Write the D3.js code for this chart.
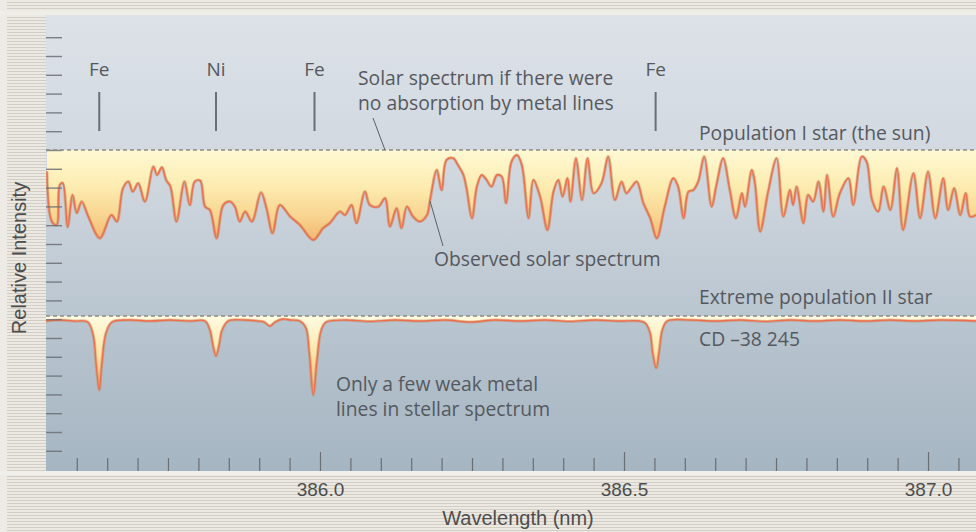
<!DOCTYPE html>
<html>
<head>
<meta charset="utf-8">
<script src="https://cdn.jsdelivr.net/npm/d3@7/dist/d3.min.js"></script>
<style>
  html, body { margin: 0; padding: 0; background: #ebe8e2; }
  svg { display: block; }
</style>
</head>
<body>
<svg id="chart" width="976" height="532" font-family="'Open Sans', 'Liberation Sans', Arial, sans-serif"></svg>
<script>
// Observed solar spectrum (Population I): wavelength in nm, intensity relative to the continuum
const solarWavelength = [
  385.551, 385.559, 385.567, 385.572, 385.577, 385.585, 385.593, 385.600, 385.608, 385.619,
  385.638, 385.657, 385.666, 385.676, 385.685, 385.692, 385.701, 385.712, 385.726, 385.732,
  385.740, 385.747, 385.754, 385.764, 385.777, 385.786, 385.794, 385.803, 385.811, 385.819,
  385.830, 385.841, 385.852, 385.860, 385.868, 385.877, 385.888, 385.903, 385.912, 385.922,
  385.934, 385.951, 385.967, 385.989, 386.005, 386.016, 386.033, 386.041, 386.052, 386.060,
  386.074, 386.082, 386.096, 386.107, 386.115, 386.126, 386.134, 386.143, 386.153, 386.164,
  386.176, 386.181, 386.192, 386.200, 386.208, 386.219, 386.227, 386.236, 386.241, 386.250,
  386.258, 386.266, 386.274, 386.282, 386.291, 386.299, 386.306, 386.315, 386.324, 386.332,
  386.343, 386.351, 386.362, 386.374, 386.384, 386.392, 386.399, 386.407, 386.412, 386.421,
  386.431, 386.440, 386.450, 386.463, 386.474, 386.485, 386.496, 386.504, 386.513, 386.521,
  386.532, 386.543, 386.554, 386.567, 386.581, 386.589, 386.598, 386.606, 386.614, 386.622,
  386.632, 386.644, 386.652, 386.663, 386.674, 386.684, 386.694, 386.699, 386.710, 386.715,
  386.724, 386.737, 386.751, 386.762, 386.773, 386.778, 386.784, 386.795, 386.803, 386.811,
  386.820, 386.828, 386.834, 386.844, 386.855, 386.869, 386.877, 386.891, 386.899, 386.908,
  386.918, 386.927, 386.938, 386.949, 386.959, 386.976, 386.987, 387.000, 387.012, 387.025,
  387.033, 387.043, 387.053, 387.062, 387.069, 387.079
];
const solarIntensity = [
  0.892, 0.642, 0.625, 0.825, 0.835, 0.615, 0.775, 0.685, 0.742, 0.667,
  0.559, 0.675, 0.642, 0.809, 0.842, 0.792, 0.834, 0.742, 0.917, 0.875,
  0.914, 0.850, 0.817, 0.642, 0.842, 0.725, 0.842, 0.847, 0.717, 0.700,
  0.559, 0.725, 0.742, 0.717, 0.642, 0.692, 0.642, 0.787, 0.709, 0.584,
  0.725, 0.667, 0.625, 0.550, 0.609, 0.634, 0.692, 0.675, 0.725, 0.634,
  0.792, 0.725, 0.717, 0.759, 0.617, 0.709, 0.609, 0.717, 0.667, 0.642,
  0.675, 0.750, 0.900, 0.800, 0.950, 0.959, 0.925, 0.875, 0.809, 0.659,
  0.817, 0.875, 0.850, 0.817, 0.875, 0.867, 0.734, 0.942, 0.975, 0.925,
  0.659, 0.850, 0.767, 0.600, 0.792, 0.850, 0.767, 0.859, 0.742, 0.959,
  0.750, 0.959, 0.784, 0.834, 0.967, 0.750, 0.842, 0.784, 0.817, 0.842,
  0.734, 0.660, 0.559, 0.717, 0.859, 0.817, 0.659, 0.792, 0.800, 0.842,
  0.967, 0.717, 0.825, 0.959, 0.800, 0.659, 0.784, 0.717, 0.900, 0.842,
  0.592, 0.792, 0.959, 0.667, 0.800, 0.725, 0.817, 0.634, 0.775, 0.742,
  0.842, 0.692, 0.875, 0.667, 0.784, 0.859, 0.725, 0.967, 0.942, 0.750,
  0.692, 0.817, 0.700, 0.909, 0.600, 0.884, 0.659, 0.892, 0.659, 0.859,
  0.700, 0.809, 0.675, 0.784, 0.667, 0.675
];

// Extreme Population II star CD -38 245: wavelength in nm, intensity relative to its continuum
const haloWavelength = [
  385.549, 385.572, 385.597, 385.618, 385.627, 385.632, 385.637, 385.641, 385.648, 385.658,
  385.688, 385.720, 385.753, 385.786, 385.811, 385.819, 385.824, 385.829, 385.834, 385.839,
  385.849, 385.877, 385.898, 385.908, 385.918, 385.926, 385.939, 385.951, 385.967, 385.977,
  385.982, 385.989, 385.995, 386.002, 386.010, 386.041, 386.082, 386.123, 386.164, 386.206,
  386.247, 386.288, 386.329, 386.370, 386.411, 386.452, 386.493, 386.526, 386.535, 386.543,
  386.547, 386.553, 386.558, 386.563, 386.571, 386.609, 386.650, 386.691, 386.732, 386.773,
  386.814, 386.855, 386.896, 386.938, 386.978, 387.020, 387.079
];
const haloIntensity = [
  0.975, 0.980, 0.975, 0.970, 0.905, 0.755, 0.630, 0.755, 0.915, 0.970,
  0.980, 0.975, 0.980, 0.975, 0.975, 0.930, 0.855, 0.800, 0.855, 0.930,
  0.975, 0.980, 0.975, 0.970, 0.950, 0.970, 0.985, 0.980, 0.975, 0.940,
  0.830, 0.605, 0.780, 0.930, 0.970, 0.980, 0.973, 0.980, 0.975, 0.980,
  0.970, 0.980, 0.975, 0.980, 0.973, 0.980, 0.975, 0.975, 0.965, 0.915,
  0.820, 0.740, 0.830, 0.930, 0.975, 0.980, 0.975, 0.980, 0.973, 0.980,
  0.975, 0.980, 0.975, 0.980, 0.975, 0.980, 0.975
];

// Metal absorption lines marked above the spectra
const lineWavelength = [385.637, 385.829, 385.991, 386.552];
const lineElement = ["Fe", "Ni", "Fe", "Fe"];

// Wavelength axis: labelled ticks and minor ticks every 0.05 nm
const xLabelValues = [386.0, 386.5, 387.0];
const xMinorTicks = d3.range(0, 30).map(i => +(385.60 + i * 0.05).toFixed(2));
const yTickCount = 23;

const W = 976, H = 532;
const plot = { left: 46, right: 976, top: 15, bottom: 471 };
const axisFont = "'Liberation Sans', Arial, sans-serif";
const svg = d3.select("#chart");
const defs = svg.append("defs");

// ruled paper around the plot
const stripes = defs.append("pattern")
  .attr("id", "stripes").attr("patternUnits", "userSpaceOnUse")
  .attr("width", 8).attr("height", 3);
stripes.append("rect").attr("width", 8).attr("height", 3).attr("fill", "#ece9e3");
stripes.append("rect").attr("y", 2).attr("width", 8).attr("height", 1).attr("fill", "#d2cec6");

const bgGrad = defs.append("linearGradient").attr("id", "bgGrad")
  .attr("gradientUnits", "userSpaceOnUse")
  .attr("x1", 0).attr("x2", 0).attr("y1", plot.top).attr("y2", plot.bottom);
[[0, "#dde2e8"], [0.35, "#d0d7df"], [0.65, "#bac6d0"], [1, "#a5b5c2"]]
  .forEach(([o, c]) => bgGrad.append("stop").attr("offset", o).attr("stop-color", c));

const x = d3.scaleLinear().domain([385.5494, 387.0789]).range([plot.left, plot.right]);
const ySolar = d3.scaleLinear().domain([0, 1]).range([350, 150]);
const yHalo = d3.scaleLinear().domain([0, 1]).range([516, 316]);
const yTicks = d3.scaleLinear().domain([0, yTickCount - 1]).range([450.8, 37.2]);

const solarGrad = defs.append("linearGradient").attr("id", "solarGrad")
  .attr("gradientUnits", "userSpaceOnUse")
  .attr("x1", 0).attr("x2", 0).attr("y1", ySolar(1)).attr("y2", ySolar(0.55));
[[0, "#fef9d4"], [0.4, "#fdecb0"], [0.75, "#f8d38e"], [1, "#f3b670"]]
  .forEach(([o, c]) => solarGrad.append("stop").attr("offset", o).attr("stop-color", c));

const haloGrad = defs.append("linearGradient").attr("id", "haloGrad")
  .attr("gradientUnits", "userSpaceOnUse")
  .attr("x1", 0).attr("x2", 0).attr("y1", yHalo(1)).attr("y2", yHalo(0.6));
[[0, "#fffbe2"], [0.4, "#fdeab0"], [1, "#f2b46a"]]
  .forEach(([o, c]) => haloGrad.append("stop").attr("offset", o).attr("stop-color", c));

defs.append("clipPath").attr("id", "plotClip").append("rect")
  .attr("x", plot.left).attr("y", plot.top)
  .attr("width", plot.right - plot.left).attr("height", plot.bottom - plot.top);

// frame
svg.append("rect").attr("width", W).attr("height", H).attr("fill", "url(#stripes)");
svg.append("rect").attr("x", 0).attr("y", 0).attr("width", 7).attr("height", H).attr("fill", "#eeebe6");
svg.append("rect").attr("x", 0).attr("y", 11).attr("width", W).attr("height", 4).attr("fill", "#efede8");
svg.append("rect").attr("x", 0).attr("y", plot.bottom).attr("width", W).attr("height", 4).attr("fill", "#f1efeb");
svg.append("rect")
  .attr("x", plot.left).attr("y", plot.top)
  .attr("width", plot.right - plot.left).attr("height", plot.bottom - plot.top)
  .attr("fill", "url(#bgGrad)");

const g = svg.append("g").attr("clip-path", "url(#plotClip)");
const curve = d3.curveCatmullRom.alpha(0.5);

// solar spectrum
const solar = solarWavelength.map((w, i) => ({ w, v: solarIntensity[i] }));
g.append("path").datum(solar)
  .attr("fill", "url(#solarGrad)")
  .attr("d", d3.area().x(d => x(d.w)).y0(ySolar(1)).y1(d => ySolar(d.v)).curve(curve));
g.append("path").datum(solar)
  .attr("fill", "none").attr("stroke", "#c9845a").attr("stroke-width", 3).attr("stroke-opacity", 0.55)
  .attr("stroke-linejoin", "round")
  .attr("d", d3.line().x(d => x(d.w)).y(d => ySolar(d.v)).curve(curve));
g.append("path").datum(solar)
  .attr("fill", "none").attr("stroke", "#ee6f4c").attr("stroke-width", 1.4)
  .attr("stroke-linejoin", "round")
  .attr("d", d3.line().x(d => x(d.w)).y(d => ySolar(d.v)).curve(curve));

// population II spectrum
const halo = haloWavelength.map((w, i) => ({ w, v: haloIntensity[i] }));
g.append("path").datum(halo)
  .attr("fill", "url(#haloGrad)")
  .attr("d", d3.area().x(d => x(d.w)).y0(yHalo(1)).y1(d => yHalo(d.v)).curve(curve));
g.append("path").datum(halo)
  .attr("fill", "none").attr("stroke", "#c9845a").attr("stroke-width", 3).attr("stroke-opacity", 0.5)
  .attr("d", d3.line().x(d => x(d.w)).y(d => yHalo(d.v)).curve(curve));
g.append("path").datum(halo)
  .attr("fill", "none").attr("stroke", "#ee6f4c").attr("stroke-width", 1.3)
  .attr("d", d3.line().x(d => x(d.w)).y(d => yHalo(d.v)).curve(curve));

// intensity ticks along the left edge
const yAxis = svg.append("g")
  .attr("transform", `translate(${plot.left},0)`)
  .call(d3.axisRight(yTicks).tickValues(d3.range(yTickCount))
    .tickSize(16).tickFormat(""));
yAxis.select(".domain").remove();
yAxis.selectAll("line").attr("stroke", "#6b6f74").attr("stroke-width", 1.4).attr("stroke-opacity", 0.85);

// continuum levels
[ySolar(1), yHalo(1)].forEach(yy => {
  svg.append("line")
    .attr("x1", plot.left).attr("x2", plot.right).attr("y1", yy).attr("y2", yy)
    .attr("stroke", "#8c8c84").attr("stroke-width", 1.5).attr("stroke-dasharray", "4,3");
});

// wavelength ticks
const xAxis = svg.append("g")
  .attr("transform", `translate(0,${plot.bottom})`)
  .call(d3.axisBottom(x).tickValues(xMinorTicks)
    .tickSize(-13).tickFormat(""));
xAxis.select(".domain").remove();
xAxis.selectAll("line")
  .attr("y2", d => xLabelValues.some(v => Math.abs(v - d) < 1e-6) ? -19 : -13)
  .attr("stroke", "#6b6f74").attr("stroke-width", 1.2);

const xLabels = svg.append("g")
  .attr("transform", `translate(0,${plot.bottom})`)
  .call(d3.axisBottom(x).tickValues(xLabelValues).tickSize(0).tickPadding(12)
    .tickFormat(d3.format(".1f")));
xLabels.attr("font-family", axisFont).attr("font-size", 19);
xLabels.select(".domain").remove();
xLabels.selectAll("text").attr("fill", "#4d4d4d");

svg.append("text")
  .attr("x", 518).attr("y", 525).attr("text-anchor", "middle")
  .attr("font-family", axisFont)
  .attr("font-size", 20).attr("fill", "#4d4d4d")
  .text("Wavelength (nm)");

svg.append("text")
  .attr("transform", "translate(26,258) rotate(-90)")
  .attr("text-anchor", "middle")
  .attr("font-family", axisFont)
  .attr("font-size", 20).attr("fill", "#4d4d4d")
  .text("Relative Intensity");

// element line markers
const markers = svg.append("g").selectAll("g")
  .data(lineWavelength.map((w, i) => ({ w, el: lineElement[i] })))
  .join("g")
  .attr("transform", d => `translate(${x(d.w)},0)`);
markers.append("text")
  .attr("y", 76).attr("text-anchor", "middle")
  .attr("font-size", 19).attr("fill", "#55595e")
  .text(d => d.el);
markers.append("line")
  .attr("y1", 92).attr("y2", 131)
  .attr("stroke", "#6b6f74").attr("stroke-width", 2);

// annotations
const note = (tx, ty, str) => svg.append("text")
  .attr("x", tx).attr("y", ty)
  .attr("font-size", 19.3).attr("fill", "#55595e")
  .text(str);

note(358, 85, "Solar spectrum if there were");
note(358, 110, "no absorption by metal lines");
note(699, 140, "Population I star (the sun)");
note(434, 266, "Observed solar spectrum");
note(699, 304, "Extreme population II star");
note(699, 346, "CD \u201338 245");
note(336, 391, "Only a few weak metal");
note(336, 416, "lines in stellar spectrum");

svg.append("line")
  .attr("x1", 373).attr("y1", 118).attr("x2", 385).attr("y2", ySolar(1))
  .attr("stroke", "#5a6068").attr("stroke-width", 1);
svg.append("line")
  .attr("x1", 430).attr("y1", 201).attr("x2", 443).attr("y2", 246)
  .attr("stroke", "#5a6068").attr("stroke-width", 1);
</script>
</body>
</html>
